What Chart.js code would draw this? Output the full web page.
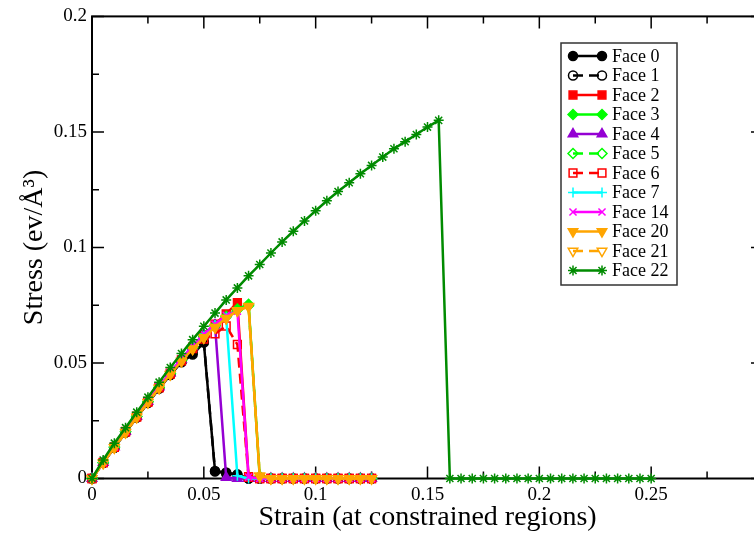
<!DOCTYPE html>
<html>
<head>
<meta charset="utf-8">
<title>Stress vs strain</title>
<script src="https://cdn.jsdelivr.net/npm/chart.js@4.4.1/dist/chart.umd.min.js"></script>
<style>
  html, body { margin: 0; padding: 0; background: #fff; overflow: hidden; }
  #wrap { width: 770px; height: 537px; }
</style>
</head>
<body>
<div id="wrap"><canvas id="stressChart" width="770" height="537"></canvas></div>
<script>
// strain steps for the short runs (faces 0-21) and the long run (face 22)
const strainShort = [0, 0.005, 0.01, 0.015, 0.02, 0.025, 0.03, 0.035, 0.04, 0.045, 0.05, 0.055, 0.06,
  0.065, 0.07, 0.075, 0.08, 0.085, 0.09, 0.095, 0.1, 0.105, 0.11, 0.115, 0.12, 0.125];
const strainLong = [0, 0.005, 0.01, 0.015, 0.02, 0.025, 0.03, 0.035, 0.04, 0.045, 0.05, 0.055, 0.06,
  0.065, 0.07, 0.075, 0.08, 0.085, 0.09, 0.095, 0.1, 0.105, 0.11, 0.115, 0.12, 0.125, 0.13, 0.135,
  0.14, 0.145, 0.15, 0.155, 0.16, 0.165, 0.17, 0.175, 0.18, 0.185, 0.19, 0.195, 0.2, 0.205, 0.21,
  0.215, 0.22, 0.225, 0.23, 0.235, 0.24, 0.245, 0.25];

// stress (eV/A^3)
const face0 = [0, 0.0067, 0.0133, 0.0199, 0.0264, 0.0327, 0.0389, 0.0448, 0.0503, 0.0537, 0.0588, 0.0033, 0.0026,
  0.0018, 0, 0, 0, 0, 0, 0, 0, 0, 0, 0, 0, 0];
const face1 = [0, 0.0068, 0.0134, 0.02, 0.0265, 0.0329, 0.039, 0.0449, 0.0505, 0.0545, 0.0592, 0.003, 0.0022,
  0.0015, 0, 0, 0, 0, 0, 0, 0, 0, 0, 0, 0, 0];
const face2 = [0, 0.007, 0.0137, 0.0204, 0.027, 0.0334, 0.0396, 0.0456, 0.0514, 0.0569, 0.0622, 0.0668, 0.0712,
  0.0761, 0.0008, 0, 0, 0, 0, 0, 0, 0, 0, 0, 0, 0];
const face3 = [0, 0.0069, 0.0136, 0.0203, 0.0269, 0.0333, 0.0395, 0.0455, 0.0513, 0.0567, 0.0617, 0.0662, 0.0702,
  0.0733, 0.0754, 0.0006, 0, 0, 0, 0, 0, 0, 0, 0, 0, 0];
const face4 = [0, 0.0069, 0.0136, 0.0203, 0.0269, 0.0333, 0.0396, 0.0457, 0.0515, 0.057, 0.0621, 0.0664, 0.0004,
  0, 0, 0, 0, 0, 0, 0, 0, 0, 0, 0, 0, 0];
const face5 = [0, 0.0068, 0.0135, 0.0202, 0.0268, 0.0332, 0.0394, 0.0454, 0.0511, 0.0565, 0.0615, 0.066, 0.07,
  0.073, 0.0748, 0.001, 0, 0, 0, 0, 0, 0, 0, 0, 0, 0];
const face6 = [0, 0.0068, 0.0135, 0.0201, 0.0266, 0.033, 0.0392, 0.0452, 0.0509, 0.0562, 0.0603, 0.0626, 0.066,
  0.058, 0.0005, 0, 0, 0, 0, 0, 0, 0, 0, 0, 0, 0];
const face7 = [0, 0.0069, 0.0136, 0.0203, 0.0269, 0.0334, 0.0397, 0.0458, 0.0517, 0.0572, 0.0624, 0.0664, 0.0697,
  0.0012, 0, 0, 0, 0, 0, 0, 0, 0, 0, 0, 0, 0];
const face14 = [0, 0.0069, 0.0137, 0.0204, 0.027, 0.0335, 0.0398, 0.0459, 0.0518, 0.0573, 0.0625, 0.0668, 0.0706,
  0.0724, 0.0006, 0, 0, 0, 0, 0, 0, 0, 0, 0, 0, 0];
const face20 = [0, 0.0067, 0.0134, 0.02, 0.0266, 0.033, 0.0392, 0.0451, 0.0508, 0.0561, 0.061, 0.0655, 0.0694,
  0.0727, 0.0746, 0.0012, 0, 0, 0, 0, 0, 0, 0, 0, 0, 0];
const face21 = [0, 0.0067, 0.0133, 0.0199, 0.0265, 0.0329, 0.0391, 0.045, 0.0507, 0.056, 0.0609, 0.0654, 0.0693,
  0.0726, 0.0743, 0.0009, 0, 0, 0, 0, 0, 0, 0, 0, 0, 0];
const face22 = [0, 0.008, 0.0153, 0.022, 0.0287, 0.0352, 0.0417, 0.048, 0.0541, 0.0601, 0.0659, 0.0716, 0.0773,
  0.0825, 0.0877, 0.0926, 0.0976, 0.1024, 0.107, 0.1115, 0.1159, 0.1202, 0.1242, 0.128, 0.1319, 0.1355,
  0.1391, 0.1427, 0.1458, 0.1489, 0.1521, 0.155, 0, 0, 0, 0, 0, 0, 0, 0, 0, 0, 0, 0, 0, 0, 0, 0, 0, 0, 0];

const xTicks = [0, 0.05, 0.1, 0.15, 0.2, 0.25];
const yTicks = [0, 0.05, 0.1, 0.15, 0.2];

const SERIF = "'Liberation Serif', 'Times New Roman', serif";

function pts(xs, ys) {
  return xs.map((x, i) => ({ x: x, y: ys[i] }));
}

// label, strain, stress, colour, symbol, hollow symbol + dashed line, symbol size, rotation
const faces = [
  ['Face 0', strainShort, face0, '#000000', 'circle', false, 4.5, 0],
  ['Face 1', strainShort, face1, '#000000', 'circle', true, 4.5, 0],
  ['Face 2', strainShort, face2, '#ff0000', 'rect', false, 5.5, 0],
  ['Face 3', strainShort, face3, '#00ff00', 'rectRot', false, 5, 0],
  ['Face 4', strainShort, face4, '#9400d3', 'triangle', false, 5.5, 0],
  ['Face 5', strainShort, face5, '#00ff00', 'rectRot', true, 5, 0],
  ['Face 6', strainShort, face6, '#ff0000', 'rect', true, 5.5, 0],
  ['Face 7', strainShort, face7, '#00ffff', 'cross', false, 5, 0],
  ['Face 14', strainShort, face14, '#ff00ff', 'crossRot', false, 5, 0],
  ['Face 20', strainShort, face20, '#ffa500', 'triangle', false, 5.5, 180],
  ['Face 21', strainShort, face21, '#ffa500', 'triangle', true, 5.5, 180],
  ['Face 22', strainLong, face22, '#008b00', 'star', false, 5, 0]
];

const datasets = faces.map((f, i) => ({
  label: f[0],
  data: pts(f[1], f[2]),
  borderColor: f[3],
  backgroundColor: f[3],
  borderWidth: 2.5,
  borderDash: f[5] ? [10, 6] : [],
  pointStyle: f[4],
  pointRadius: f[6],
  pointHoverRadius: f[6],
  pointRotation: f[7],
  pointBorderWidth: 1.5,
  pointBorderColor: f[3],
  pointBackgroundColor: f[5] ? 'rgba(0,0,0,0)' : f[3],
  tension: 0,
  clip: false,
  order: faces.length - i
}));

function fmt(v) {
  return String(parseFloat(Number(v).toFixed(3)));
}

// closed frame with inward major and minor ticks on all four sides
const frameTicks = {
  id: 'frameTicks',
  beforeDatasetsDraw(chart) {
    const { ctx, chartArea: a, scales } = chart;
    const sx = scales.x, sy = scales.y;
    ctx.save();
    ctx.strokeStyle = '#000';
    ctx.lineWidth = 1.5;
    ctx.beginPath();
    for (let i = 0; i < xTicks.length; i++) {
      const major = sx.getPixelForValue(xTicks[i]);
      const minor = sx.getPixelForValue(xTicks[i] + 0.025);
      ctx.moveTo(major, a.bottom); ctx.lineTo(major, a.bottom - 12);
      ctx.moveTo(major, a.top); ctx.lineTo(major, a.top + 12);
      ctx.moveTo(minor, a.bottom); ctx.lineTo(minor, a.bottom - 7);
      ctx.moveTo(minor, a.top); ctx.lineTo(minor, a.top + 7);
    }
    for (let i = 0; i < yTicks.length; i++) {
      const major = sy.getPixelForValue(yTicks[i]);
      ctx.moveTo(a.left, major); ctx.lineTo(a.left + 12, major);
      ctx.moveTo(a.right, major); ctx.lineTo(a.right - 12, major);
      if (i < yTicks.length - 1) {
        const minor = sy.getPixelForValue(yTicks[i] + 0.025);
        ctx.moveTo(a.left, minor); ctx.lineTo(a.left + 7, minor);
        ctx.moveTo(a.right, minor); ctx.lineTo(a.right - 7, minor);
      }
    }
    ctx.stroke();
    ctx.lineWidth = 2;
    ctx.strokeRect(a.left, a.top, a.right - a.left, a.bottom - a.top);
    ctx.restore();
  }
};

// boxed legend inside the plot, symbol at both ends of each line sample
const boxLegend = {
  id: 'boxLegend',
  afterDraw(chart) {
    const ctx = chart.ctx;
    const box = { x: 561, y: 43, w: 116, h: 242 };
    ctx.save();
    ctx.fillStyle = '#fff';
    ctx.fillRect(box.x, box.y, box.w, box.h);
    ctx.strokeStyle = '#333';
    ctx.lineWidth = 1.5;
    ctx.strokeRect(box.x, box.y, box.w, box.h);
    ctx.font = '18px ' + SERIF;
    ctx.textBaseline = 'middle';
    chart.data.datasets.forEach((ds, i) => {
      const yy = 56 + i * 19.5;
      const x0 = 573, x1 = 602;
      ctx.save();
      ctx.strokeStyle = ds.borderColor;
      ctx.lineWidth = ds.borderWidth;
      ctx.setLineDash(ds.borderDash);
      ctx.beginPath();
      ctx.moveTo(x0, yy);
      ctx.lineTo(x1, yy);
      ctx.stroke();
      ctx.restore();
      const opts = {
        pointStyle: ds.pointStyle,
        radius: ds.pointRadius,
        rotation: ds.pointRotation,
        borderWidth: ds.pointBorderWidth
      };
      ctx.fillStyle = ds.pointBackgroundColor;
      ctx.strokeStyle = ds.pointBorderColor;
      ctx.lineWidth = ds.pointBorderWidth;
      ctx.setLineDash([]);
      Chart.helpers.drawPoint(ctx, opts, x0, yy);
      Chart.helpers.drawPoint(ctx, opts, x1, yy);
      ctx.fillStyle = '#000';
      ctx.fillText(ds.label, 612, yy + 1);
    });
    ctx.restore();
  }
};

new Chart(document.getElementById('stressChart'), {
  type: 'line',
  data: { datasets: datasets },
  options: {
    responsive: false,
    animation: false,
    events: [],
    layout: { padding: { left: 0, top: 9.5, right: 6, bottom: 0 } },
    plugins: {
      legend: { display: false },
      tooltip: { enabled: false }
    },
    scales: {
      x: {
        type: 'linear',
        min: 0,
        max: 0.3,
        afterFit(scale) { scale.height = 58.5; },
        afterBuildTicks(scale) { scale.ticks = xTicks.map(v => ({ value: v })); },
        grid: { display: false, drawTicks: false },
        border: { display: false },
        ticks: {
          padding: 5,
          color: '#000',
          font: { family: SERIF, size: 19 },
          callback: v => fmt(v)
        },
        title: {
          display: true,
          text: 'Strain (at constrained regions)',
          color: '#000',
          font: { family: SERIF, size: 28 },
          padding: { top: 0, bottom: 3 }
        }
      },
      y: {
        type: 'linear',
        min: 0,
        max: 0.2,
        afterFit(scale) { scale.width = 92; },
        afterBuildTicks(scale) { scale.ticks = yTicks.map(v => ({ value: v })); },
        grid: { display: false, drawTicks: false },
        border: { display: false },
        ticks: {
          padding: 5,
          color: '#000',
          font: { family: SERIF, size: 19 },
          callback: v => fmt(v)
        },
        title: {
          display: true,
          text: 'Stress (ev/Å³)',
          color: '#000',
          font: { family: SERIF, size: 28 },
          padding: { top: 18, bottom: 0 }
        }
      }
    }
  },
  plugins: [frameTicks, boxLegend]
});
</script>
</body>
</html>
